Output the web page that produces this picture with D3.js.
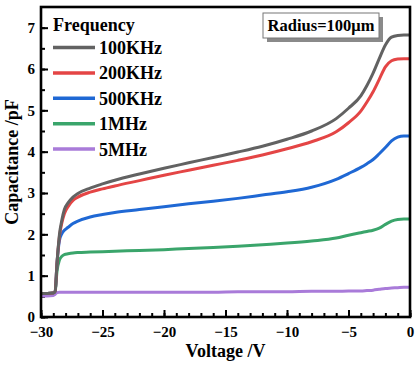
<!DOCTYPE html>
<html>
<head>
<meta charset="utf-8">
<script src="https://cdn.jsdelivr.net/npm/d3@7"></script>
<style>
body{margin:0;background:#fff;}
svg{display:block;font-family:"Liberation Serif","Times New Roman",serif;font-weight:bold;}
</style>
</head>
<body>
<script>
const W=420,H=368,
mLeft=41,mRight=10,mTop=7,mBottom=51;

// bias voltage (V)
const voltage=[-30,-29.5,-29,-28.85,-28.7,-28.5,-28.3,-28.1,-27.8,-27.4,-27,-26,-25,-24,-22,-20,-18,-16,-14,-12,-10,-8,-6,-5,-4,-3.5,-3,-2.5,-2,-1.5,-1,-0.5,0];
// capacitance (pF) per frequency
const c100k=[0.57,0.57,0.58,0.62,1.3,2.0,2.35,2.6,2.76,2.9,2.99,3.12,3.22,3.31,3.46,3.6,3.73,3.86,3.99,4.13,4.3,4.5,4.8,5.05,5.35,5.6,5.9,6.25,6.58,6.77,6.81,6.82,6.82];
const c200k=[0.57,0.57,0.58,0.62,1.3,1.95,2.28,2.5,2.67,2.82,2.9,3.02,3.1,3.17,3.3,3.43,3.55,3.67,3.79,3.92,4.07,4.24,4.48,4.7,4.98,5.2,5.45,5.75,6.05,6.2,6.24,6.25,6.25];
const c500k=[0.57,0.57,0.58,0.62,1.3,1.85,2.02,2.1,2.17,2.26,2.32,2.42,2.48,2.53,2.6,2.67,2.74,2.8,2.87,2.95,3.03,3.14,3.33,3.47,3.62,3.71,3.81,3.95,4.1,4.26,4.35,4.38,4.38];
const c1m=[0.57,0.57,0.58,0.62,1.1,1.38,1.47,1.51,1.53,1.55,1.56,1.57,1.58,1.59,1.61,1.63,1.66,1.68,1.71,1.75,1.79,1.84,1.91,1.98,2.04,2.07,2.1,2.15,2.24,2.32,2.36,2.37,2.37];
const c5m=[0.51,0.51,0.52,0.55,0.59,0.6,0.6,0.6,0.6,0.6,0.6,0.6,0.6,0.6,0.6,0.6,0.6,0.6,0.61,0.61,0.61,0.62,0.62,0.63,0.63,0.64,0.65,0.67,0.69,0.7,0.71,0.72,0.72];

const names=["100KHz","200KHz","500KHz","1MHz","5MHz"];
const colors=["#626262","#e44545","#1f68d4","#3aa56b","#a97bd9"];
const series=[c100k,c200k,c500k,c1m,c5m];

const xTicks=[-30,-25,-20,-15,-10,-5,0];
const yTicks=[0,1,2,3,4,5,6,7];

const svg=d3.select("body").append("svg")
  .attr("width",W).attr("height",H);

const x=d3.scaleLinear().domain([-30,0]).range([mLeft,W-mRight]);
const y=d3.scaleLinear().domain([0,7.5]).range([H-mBottom,mTop]);

// minor ticks
svg.append("g")
  .attr("transform",`translate(0,${H-mBottom})`)
  .call(d3.axisBottom(x).tickValues(d3.range(-30,1,1)).tickSize(-4).tickFormat(""))
  .call(g=>g.select(".domain").remove())
  .call(g=>g.selectAll("line").attr("stroke-width",2));
svg.append("g")
  .attr("transform",`translate(${mLeft},0)`)
  .call(d3.axisLeft(y).tickValues(d3.range(0,7.5,0.5)).tickSize(-4).tickFormat(""))
  .call(g=>g.select(".domain").remove())
  .call(g=>g.selectAll("line").attr("stroke-width",2));

// major ticks
const xAxis=svg.append("g")
  .attr("transform",`translate(0,${H-mBottom})`)
  .call(d3.axisBottom(x).tickValues(xTicks).tickSize(-7).tickPadding(12));
const yAxis=svg.append("g")
  .attr("transform",`translate(${mLeft},0)`)
  .call(d3.axisLeft(y).tickValues(yTicks).tickSize(-7).tickPadding(13));
[xAxis,yAxis].forEach(g=>{
  g.select(".domain").remove();
  g.selectAll("line").attr("stroke-width",2);
  g.selectAll("text").attr("font-size",15).attr("font-weight","bold")
   .attr("font-family","Liberation Serif, Times New Roman, serif").attr("fill","#000");
});
yAxis.selectAll("text").attr("dx",7);
xAxis.selectAll("text").attr("dy","0.55em");

// curves
const line=d3.line().x((d,i)=>x(voltage[i])).y(d=>y(d)).curve(d3.curveMonotoneX);
series.slice().reverse().forEach((s,k)=>{
  const i=series.length-1-k;
  svg.append("path").datum(s)
    .attr("fill","none").attr("stroke",colors[i])
    .attr("stroke-width",3).attr("stroke-linejoin","round")
    .attr("d",line);
});

// frame
svg.append("rect")
  .attr("x",mLeft).attr("y",mTop)
  .attr("width",W-mLeft-mRight).attr("height",H-mTop-mBottom)
  .attr("fill","none").attr("stroke","#000").attr("stroke-width",2.6);

// legend
svg.append("text").attr("x",53).attr("y",31).attr("font-size",18).text("Frequency");
const leg=svg.append("g").selectAll("g").data(names).enter().append("g")
  .attr("transform",(d,i)=>`translate(0,${47.5+i*25.4})`);
leg.append("line").attr("x1",53).attr("x2",95)
  .attr("stroke",(d,i)=>colors[i]).attr("stroke-width",3.5);
leg.append("text").attr("x",99).attr("y",6.5).attr("font-size",18).text(d=>d);

// radius note
svg.append("rect").attr("x",267).attr("y",17).attr("width",116).attr("height",25).attr("fill","#8a8a8a");
svg.append("rect").attr("x",263).attr("y",13).attr("width",116).attr("height",25)
  .attr("fill","#fff").attr("stroke","#777").attr("stroke-width",1);
svg.append("text").attr("x",321).attr("y",31).attr("text-anchor","middle")
  .attr("font-size",16.5).text("Radius=100μm");

// axis titles
svg.append("text").attr("x",(mLeft+W-mRight)/2).attr("y",357)
  .attr("text-anchor","middle").attr("font-size",18).text("Voltage /V");
svg.append("text").attr("transform",`translate(18,${(mTop+H-mBottom)/2}) rotate(-90)`)
  .attr("text-anchor","middle").attr("font-size",18).text("Capacitance /pF");
</script>
</body>
</html>
